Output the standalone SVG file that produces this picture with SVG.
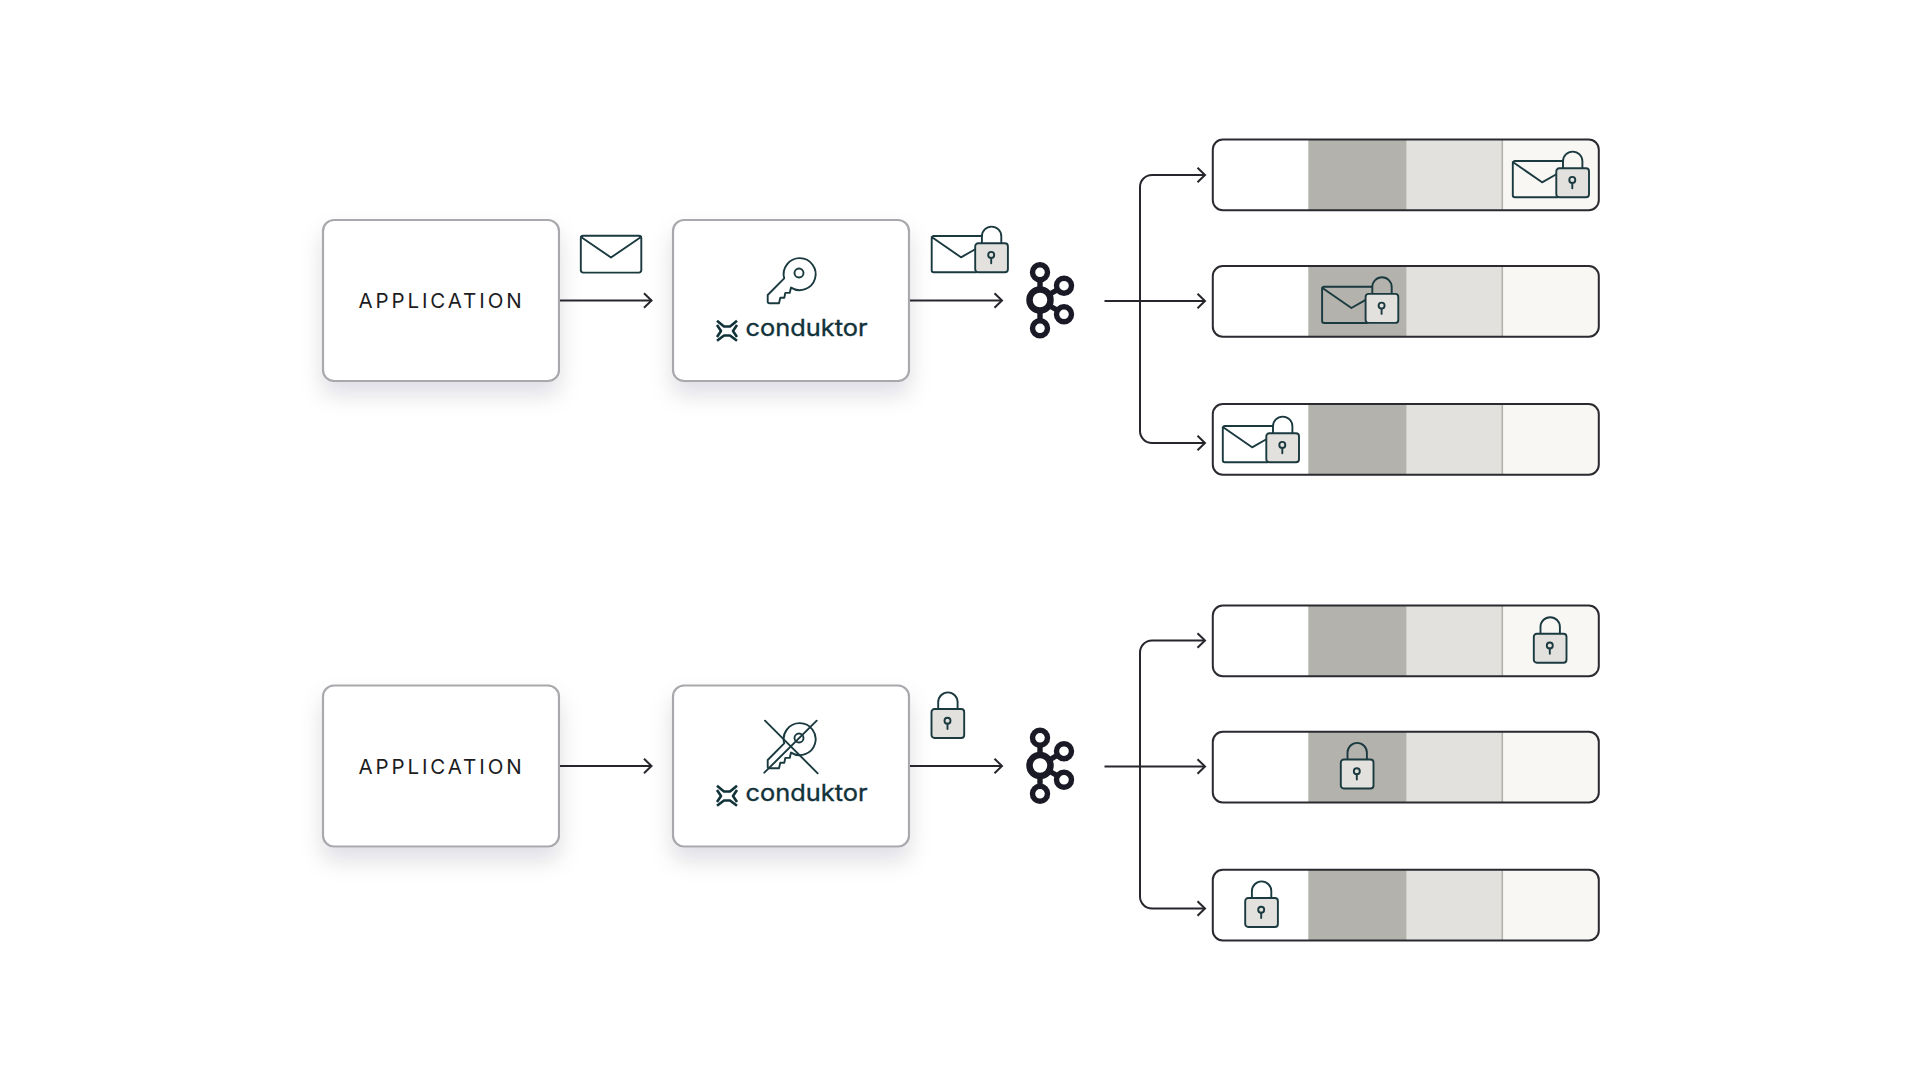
<svg xmlns="http://www.w3.org/2000/svg" xmlns:xlink="http://www.w3.org/1999/xlink" width="1920" height="1080" viewBox="0 0 1920 1080">
<style>
.box{fill:#fff;stroke:#a9a8ac;stroke-width:2.2}
.conn{fill:none;stroke:#26262c;stroke-width:2;marker-end:url(#arrow)}
.ic{fill:none;stroke:#1a3a40;stroke-width:1.9;stroke-linejoin:round;stroke-linecap:round}
.lockbody{fill:#e2e1dd;stroke:#1a3a40;stroke-width:1.9}
.app{font-family:Inter,"Liberation Sans",sans-serif;font-size:20.5px;letter-spacing:2.9px;fill:#1c1c22;text-anchor:middle}
.brand{font-family:Inter,"Liberation Sans",sans-serif;font-size:23px;font-weight:400;fill:#12323a;stroke:#12323a;stroke-width:.35}
.kaf{fill:none;stroke:#1a1a26;stroke-width:5.400}
.mark{fill:none;stroke:#12323a;stroke-width:2.600;stroke-linecap:butt;stroke-linejoin:round}
</style>
<defs>
<marker id="arrow" markerUnits="userSpaceOnUse" markerWidth="20" markerHeight="20" refX="11" refY="10" orient="auto" viewBox="0 0 20 20"><path d="M3.5 2.7 L11 10 L3.5 17.3" fill="none" stroke="#26262c" stroke-width="2"/></marker>
<filter id="sh" x="-30%" y="-30%" width="160%" height="170%"><feDropShadow dx="0" dy="13" stdDeviation="11" flood-color="#1a1a26" flood-opacity="0.13"/></filter>
<clipPath id="barclip"><rect x="0" y="0" width="386" height="70.7" rx="10"/></clipPath>
<g id="lock">
<path class="ic" d="M6.7 0V-6.9a9.7 9.7 0 0 1 19.4 0V0"/>
<rect class="lockbody" x="0" y="0" width="32.7" height="29" rx="3"/>
<circle class="ic" cx="16" cy="11.7" r="3"/><path class="ic" d="M16 14.7V20"/>
</g>
<g id="envlock">
<path class="ic" d="M50 0H2a2 2 0 0 0-2 2V34.3a2 2 0 0 0 2 2H45M0 1L29.3 21.3L44 13"/>
<use xlink:href="#lock" href="#lock" x="43.5" y="7.2"/>
</g>
<g id="bar">
<g clip-path="url(#barclip)">
<rect x="0" y="0" width="95.500" height="70.7" fill="#fff"/>
<rect x="95.500" y="0" width="98.4" height="70.7" fill="#b3b2ac"/>
<rect x="193.900" y="0" width="96" height="70.7" fill="#e2e1dd"/>
<rect x="289.500" y="0" width="97" height="70.7" fill="#f8f7f4"/>
<path d="M289.500 0V71" stroke="#b3b2ac" stroke-width="1.6"/>
</g>
<rect x="0" y="0" width="386" height="70.7" rx="10" fill="none" stroke="#2a2a30" stroke-width="2"/>
</g>
<g id="brandmark">
<path class="mark" d="M717 320.800L724 326.500H730L737 320.800M717 340.800L724 335.500H730L737 340.800M717 325L721 331L717 337M737 325L733 331L737 337"/>
</g>
<path id="key" class="ic" d="M791 287.600L789.700 292.900H785.300L784.300 297.700H780.300L779 303.300H769.500A1.800 1.800 0 0 1 767.700 301.500V295L784.200 278.300A16 16 0 1 1 791 287.600Z"/>
</defs>
<rect width="1920" height="1080" fill="#fff"/>

<g id="row1-app"><rect class="box" filter="url(#sh)" x="323" y="220" width="236" height="161" rx="11"/><text class="app" x="441.500" y="308">APPLICATION</text></g>
<g id="row1-conduktor"><rect class="box" filter="url(#sh)" x="673" y="220" width="236" height="161" rx="11"/>
<use href="#key"/><circle class="ic" cx="799" cy="273" r="4.500"/>
<use href="#brandmark"/><text class="brand" x="745.500" y="335.500" textLength="122" lengthAdjust="spacingAndGlyphs">conduktor</text></g>
<g id="row1-envelope"><rect class="ic" x="580.800" y="235.800" width="60.500" height="36.800" rx="2.500"/><path class="ic" d="M581 237L611 257.500L641 237"/></g>
<g id="row1-locked"><use href="#envlock" x="931.700" y="236"/></g>
<g id="row1-kafka" class="kaf"><path d="M1040 272V329M1040 300L1064 285.700M1040 300L1064 314.300"/><circle cx="1040" cy="300" r="10.500" fill="#fff" stroke-width="6.500"/><circle cx="1040" cy="272.300" r="7.500" fill="#fff"/><circle cx="1040" cy="328.300" r="7.500" fill="#fff"/><circle cx="1064" cy="285.700" r="7.500" fill="#fff"/><circle cx="1064" cy="314.300" r="7.500" fill="#fff"/></g>
<g id="row1-bar1" transform="translate(1212.800 139.500)"><use href="#bar"/><use href="#envlock" x="300" y="21.500"/></g>
<g id="row1-bar2" transform="translate(1212.800 266)"><use href="#bar"/><use href="#envlock" x="109.300" y="20.700"/></g>
<g id="row1-bar3" transform="translate(1212.800 404)"><use href="#bar"/><use href="#envlock" x="10" y="22"/></g>

<g id="row2-app"><rect class="box" filter="url(#sh)" x="323" y="685.500" width="236" height="161" rx="11"/><text class="app" x="441.500" y="773.500">APPLICATION</text></g>
<g id="row2-conduktor"><rect class="box" filter="url(#sh)" x="673" y="685.500" width="236" height="161" rx="11"/>
<g transform="translate(0 465)"><use href="#key"/><circle class="ic" cx="799" cy="273" r="4.500"/>
<use href="#brandmark"/><text class="brand" x="745.500" y="335.500" textLength="122" lengthAdjust="spacingAndGlyphs">conduktor</text></g>
<path class="ic" d="M765 720.700L817.700 773.300M816.700 720.700L764.300 772.700"/></g>
<g id="row2-lock"><use href="#lock" x="931.500" y="709"/></g>
<g id="row2-kafka" class="kaf" transform="translate(0 465.500)"><path d="M1040 272V329M1040 300L1064 285.700M1040 300L1064 314.300"/><circle cx="1040" cy="300" r="10.500" fill="#fff" stroke-width="6.500"/><circle cx="1040" cy="272.300" r="7.500" fill="#fff"/><circle cx="1040" cy="328.300" r="7.500" fill="#fff"/><circle cx="1064" cy="285.700" r="7.500" fill="#fff"/><circle cx="1064" cy="314.300" r="7.500" fill="#fff"/></g>
<g id="row2-bar1" transform="translate(1212.800 605.500)"><use href="#bar"/><use href="#lock" x="321" y="28.300"/></g>
<g id="row2-bar2" transform="translate(1212.800 731.800)"><use href="#bar"/><use href="#lock" x="128" y="27.700"/></g>
<g id="row2-bar3" transform="translate(1212.800 869.800)"><use href="#bar"/><use href="#lock" x="32.400" y="28.200"/></g>

<g id="connectors">
<path class="conn" d="M560 300.500H651.500"/>
<path class="conn" d="M910 300.500H1002"/>
<path class="conn" d="M1104.500 301H1205"/>
<path class="conn" d="M1140 301V187a12 12 0 0 1 12-12H1205"/>
<path class="conn" d="M1140 301V431a12 12 0 0 0 12 12H1205"/>
<path class="conn" d="M560 766H651.500"/>
<path class="conn" d="M910 766H1002"/>
<path class="conn" d="M1104.500 766.500H1205"/>
<path class="conn" d="M1140 766.500V652.500a12 12 0 0 1 12-12H1205"/>
<path class="conn" d="M1140 766.500V896.500a12 12 0 0 0 12 12H1205"/>
</g>
</svg>
